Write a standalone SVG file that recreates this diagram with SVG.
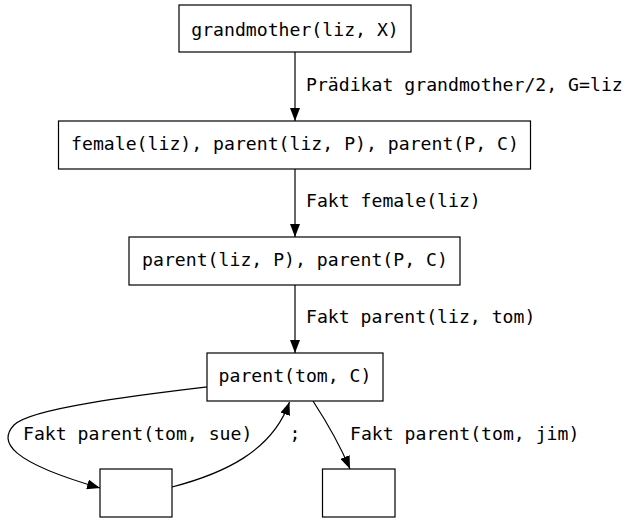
<svg xmlns="http://www.w3.org/2000/svg" width="641" height="523" viewBox="0 0 641 523">
<style>
text{font-family:"DejaVu Sans Mono","Liberation Mono",monospace;font-size:18.15px;fill:#000}
.n{fill:#fff;stroke:#000;stroke-width:1.2}
.e{fill:none;stroke:#000;stroke-width:1.2}
.c{text-anchor:middle}
</style>
<defs>
<marker id="ah" viewBox="0 0 13 10" refX="13" refY="5" markerWidth="13" markerHeight="10" markerUnits="userSpaceOnUse" orient="auto">
<path d="M0,0 L13,5 L0,10 Z" fill="#000"/>
</marker>
</defs>
<rect width="641" height="523" fill="#fff"/>
<g id="connectors">
<path class="e" d="M295,52 L295,121" marker-end="url(#ah)"/>
<text x="306" y="91">Prädikat grandmother/2, G=liz</text>
<path class="e" d="M295,169 L295,237" marker-end="url(#ah)"/>
<text x="306" y="207">Fakt female(liz)</text>
<path class="e" d="M295,285 L295,353" marker-end="url(#ah)"/>
<text x="306" y="323">Fakt parent(liz, tom)</text>
<path class="e" d="M207,387 C140,395 30,408 14,425 C-2,442 10,462 100,488" marker-end="url(#ah)"/>
<text x="23" y="440">Fakt parent(tom, sue)</text>
<path class="e" d="M172,487 C222,474 272,452 289.5,402" marker-end="url(#ah)"/>
<text class="c" x="295" y="440">;</text>
<path class="e" d="M313,401 C326,421 340,445 350,469" marker-end="url(#ah)"/>
<text x="350" y="440">Fakt parent(tom, jim)</text>
</g>
<g id="n1"><rect class="n" x="179" y="5" width="232" height="47"/><text class="c" x="295" y="36">grandmother(liz, X)</text></g>
<g id="n2"><rect class="n" x="58.5" y="121" width="472" height="48"/><text class="c" x="295" y="150">female(liz), parent(liz, P), parent(P, C)</text></g>
<g id="n3"><rect class="n" x="129" y="237" width="331" height="48"/><text class="c" x="295" y="266">parent(liz, P), parent(P, C)</text></g>
<g id="n4"><rect class="n" x="207" y="353" width="176" height="48"/><text class="c" x="295" y="382">parent(tom, C)</text></g>
<g id="n5"><rect class="n" x="100" y="469" width="72" height="48"/></g>
<g id="n6"><rect class="n" x="322.5" y="469" width="72.5" height="48"/></g>
</svg>
